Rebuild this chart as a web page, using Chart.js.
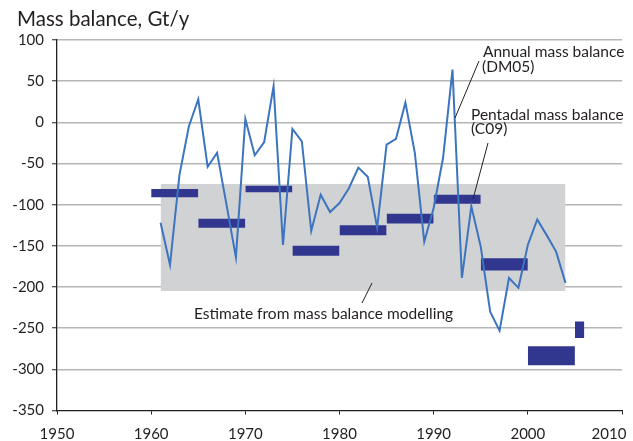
<!DOCTYPE html>
<html>
<head>
<meta charset="utf-8">
<script src="https://cdn.jsdelivr.net/npm/chart.js@4.4.1/dist/chart.umd.min.js"></script>
<style>
  html, body { margin: 0; padding: 0; background: #fff; }
  #wrap { width: 633px; height: 441px; }
</style>
</head>
<body>
<div id="wrap"><canvas id="massChart" width="633" height="441"></canvas></div>
<script>
// Annual mass balance (DM05), Gt/y
const years = [1961, 1962, 1963, 1964, 1965, 1966, 1967, 1968, 1969, 1970,
               1971, 1972, 1973, 1974, 1975, 1976, 1977, 1978, 1979, 1980,
               1981, 1982, 1983, 1984, 1985, 1986, 1987, 1988, 1989, 1990,
               1991, 1992, 1993, 1994, 1995, 1996, 1997, 1998, 1999, 2000,
               2001, 2002, 2003, 2004];
const annualBalance = [-122, -173, -64, -5, 28, -54, -37, -100, -164, 4,
                       -40, -24, 44, -149, -8, -23, -132, -88, -109, -98,
                       -80, -55, -66, -128, -27, -20, 24, -37, -145, -104,
                       -43, 64, -189, -102, -151, -230, -253, -189, -201, -149,
                       -118, -137, -157, -195];

// Pentadal mass balance (C09): period and lower / upper edge of each bar
const pentadStart = [1960, 1965, 1970, 1975, 1980, 1985, 1990, 1995, 2000, 2005];
const pentadEnd   = [1965, 1970, 1975, 1980, 1985, 1990, 1995, 2000, 2005, 2006];
const pentadLow   = [-91, -128, -85, -162, -137, -123, -99, -180, -295, -262];
const pentadHigh  = [-81, -117, -77, -150, -125, -111, -88, -165, -272, -242];

// Estimate from mass balance modelling (grey band)
const modelYears = [1961, 2004];
const modelRange = [-205, -75];

const xTicks = [1950, 1960, 1970, 1980, 1990, 2000, 2010];
const yTicks = [100, 50, 0, -50, -100, -150, -200, -250, -300, -350];

const ink = '#231f20';
const fontFamily = 'Lato, "Open Sans", sans-serif';

// grey band: flat line at the top filled down to the lower edge
const bandDataset = {
    type: 'line',
    data: modelYears.map(x => ({ x: x, y: modelRange[1] })),
    fill: { value: modelRange[0] },
    backgroundColor: '#d1d2d4',
    borderWidth: 0,
    pointRadius: 0,
    order: 3
};

// one filled segment per pentad
const pentadDatasets = pentadStart.map((start, i) => ({
    type: 'line',
    data: [{ x: start, y: pentadHigh[i] }, { x: pentadEnd[i], y: pentadHigh[i] }],
    fill: { value: pentadLow[i] },
    backgroundColor: '#31368f',
    borderWidth: 0,
    pointRadius: 0,
    order: 2
}));

const annualDataset = {
    type: 'line',
    data: years.map((x, i) => ({ x: x, y: annualBalance[i] })),
    borderColor: '#3d74bf',
    borderWidth: 2,
    pointRadius: 0,
    tension: 0,
    fill: false,
    order: 1
};

// labels and leader lines
const annotations = {
    id: 'annotations',
    afterDraw(chart) {
        const ctx = chart.ctx;
        ctx.save();
        ctx.fillStyle = ink;
        ctx.textAlign = 'left';
        ctx.textBaseline = 'alphabetic';

        ctx.font = '20.5px ' + fontFamily;
        ctx.fillText('Mass balance, Gt/y', 17, 26);

        ctx.font = '15.5px ' + fontFamily;
        ctx.fillText('Annual mass balance', 483, 57);
        ctx.fillText('(DM05)', 482, 71.5);
        ctx.fillText('Pentadal mass balance', 471, 120);
        ctx.fillText('(C09)', 471, 134);
        ctx.fillText('Estimate from mass balance modelling', 194, 319);

        ctx.strokeStyle = ink;
        ctx.lineWidth = 1;
        [[479, 61, 455, 118], [488, 143, 473, 199], [372, 283, 362, 303]].forEach(l => {
            ctx.beginPath();
            ctx.moveTo(l[0], l[1]);
            ctx.lineTo(l[2], l[3]);
            ctx.stroke();
        });
        ctx.restore();
    }
};

const ctx = document.getElementById('massChart').getContext('2d');
new Chart(ctx, {
    data: { datasets: [bandDataset, ...pentadDatasets, annualDataset] },
    options: {
        responsive: false,
        animation: false,
        devicePixelRatio: 1,
        layout: { padding: { top: 40, right: 11, left: 0, bottom: 0 } },
        plugins: {
            legend: { display: false },
            tooltip: { enabled: false },
            title: { display: false }
        },
        scales: {
            x: {
                type: 'linear',
                position: 'bottom',
                min: 1950,
                max: 2010,
                z: 2,
                afterBuildTicks: s => { s.ticks = xTicks.map(v => ({ value: v })); },
                afterFit: s => { s.height = 30.5; s.paddingLeft = 0; s.paddingRight = 0; },
                ticks: {
                    font: { family: fontFamily, size: 15 },
                    color: ink,
                    padding: 11,
                    maxRotation: 0,
                    autoSkip: false,
                    // last label is pushed left so it stays inside the canvas
                    callback: v => v === 2010 ? '2010\u2007\u2007\u2007' : String(v)
                },
                grid: { drawOnChartArea: false, tickLength: 4, tickColor: ink, tickWidth: 1 },
                border: { color: ink, width: 1.3 }
            },
            y: {
                type: 'linear',
                min: -350,
                max: 100,
                z: 1,
                afterBuildTicks: s => { s.ticks = yTicks.map(v => ({ value: v })); },
                afterFit: s => { s.width = 57; s.paddingTop = 0; s.paddingBottom = 0; },
                ticks: {
                    font: { family: fontFamily, size: 15 },
                    color: ink,
                    padding: 8
                },
                grid: {
                    color: c => (c.tick && c.tick.value === -350) ? 'rgba(0,0,0,0)' : '#b5b5b5',
                    lineWidth: 1.5,
                    tickLength: 5,
                    tickColor: ink,
                    tickWidth: 1
                },
                border: { color: ink, width: 1.3 }
            }
        }
    },
    plugins: [annotations]
});
</script>
</body>
</html>
